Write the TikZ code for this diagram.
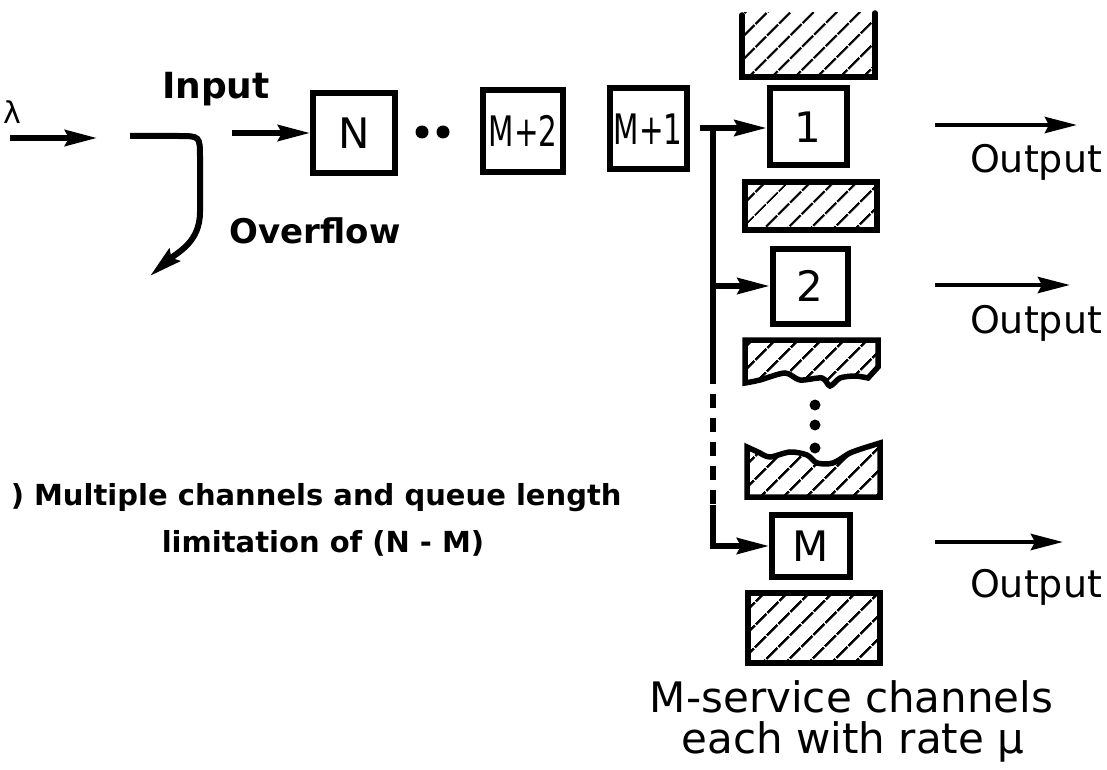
\documentclass[tikz,border=0pt]{standalone}
\usepackage{fontspec}
\setmainfont{DejaVu Sans}
\usetikzlibrary{arrows.meta, positioning, patterns.meta}

\begin{document}
\begin{tikzpicture}[x=1pt, y=-1pt, line width=5.5pt,
  arr/.style={-{Stealth[length=32pt, width=16pt, inset=4pt]}},
  chan/.style={draw, line width=6pt, minimum width=78pt, minimum height=78pt, inner sep=0pt,
               font=\fontsize{42}{42}\selectfont},
  hatch/.style={pattern={Lines[angle=45, distance=17pt, line width=2.8pt]}},
  lbl/.style={inner sep=0pt, anchor=base, font=\fontsize{38}{38}\selectfont},
  captxt/.style={inner sep=0pt, font=\bfseries\fontsize{29}{50}\selectfont}]
  \useasboundingbox (0,0) rectangle (1107,770);

  \node[lbl, anchor=base west, font=\fontsize{30}{30}\selectfont] (lam) at (1,124) {λ};
  \node[lbl, font=\bfseries\fontsize{36}{36}\selectfont] (inp) at (216,99) {Input};
  \node[lbl, font=\bfseries\fontsize{34}{34}\selectfont] (ovf) at (315,243) {Overflow};

  \node[chan, minimum width=82pt, minimum height=80pt] (N) at (354,133) {N};
  \node[chan, minimum width=80pt, minimum height=82pt] (M2) at (523,131) {\scalebox{.7}[1]{M+2}};
  \node[chan, minimum width=77pt, minimum height=81pt] (M1) at (648,129) {\scalebox{.7}[1]{M+1}};
  \node[chan, minimum width=77pt, minimum height=77pt] (c1) at (808,127) {1};
  \node[chan, minimum width=75pt, minimum height=75pt] (c2) at (810,286) {2};
  \node[chan, minimum width=78pt, minimum height=62pt] (cM) at (811,546) {M};

  \foreach \x in {422,443} \fill (\x,132) circle (6.5pt);
  \foreach \y in {405,425,448} \fill (815,\y) circle (5.5pt);

  \coordinate (in0) at (10,138);
  \coordinate (in1) at (97,138);
  \coordinate (in2) at (232,133);
  \coordinate (sp) at (130,136);
  \coordinate (ov) at (150,276);
  \draw[arr] (in0) -- (in1);
  \draw[arr] (in2) -- (N.west);
  \draw[arr, line width=6pt] (sp) -- (178,136) .. controls (200,136) .. (200,158) -- (200,212)
    .. controls (200,242) and (178,252) .. (ov);

  \coordinate (j1) at (713,128);
  \coordinate (d0) at (713,370);
  \coordinate (d1) at (713,505);
  \coordinate (jM) at (713,546);
  \draw[arr, shorten <=10pt] (M1.east |- j1) -- (c1.west |- j1);
  \draw (j1) -- (d0);
  \draw[dash pattern=on 14pt off 10pt] (d0) -- (d1);
  \draw[arr] (d1) -- (jM) -- (cM.west);
  \draw[arr] (j1 |- c2.west) -- (c2.west);

  \fill[hatch] (742,13) rectangle (875,77);
  \draw[line cap=round] (742,15) -- (742,77) -- (875,77) -- (875,13);
  \draw[hatch] (745,182) rectangle (877,230);
  \draw[hatch] (745,340) -- (878,340) -- (878,367)
    -- plot[smooth] coordinates {(868,378) (855,376) (840,378) (830,386) (822,378)
       (800,380) (785,373) (760,380) (745,383)} -- cycle;
  \draw[hatch] (747,447) -- plot[smooth] coordinates {(760,453) (770,457) (790,452)
       (807,455) (817,463) (833,463) (850,453) (867,447)} -- (880,443)
    -- (880,497) -- (747,497) -- cycle;
  \draw[hatch] (748,593) rectangle (880,663);

  \foreach \i/\y/\e/\b in {1/125/1077/172, 2/285/1070/333, 3/542/1063/597}{
    \coordinate (oa\i) at (935,\y);
    \coordinate (ob\i) at (\e,\y);
    \draw[arr, line width=4.5pt] (oa\i) -- (ob\i);
    \node[lbl] (out\i) at (1036,\b) {Output};
  }

  \node[captxt, anchor=base west] (capa) at (8,505) {) Multiple channels and queue length};
  \node[captxt, anchor=base] (capb) at (323,552) {limitation of (N - M)};
  \node[lbl, anchor=base east, font=\fontsize{42}{42}\selectfont] (sva) at (1056,712) {M-service channels};
  \node[lbl, anchor=base east, font=\fontsize{42}{42}\selectfont] (svb) at (1027,753) {each with rate μ};
\end{tikzpicture}
\end{document}
